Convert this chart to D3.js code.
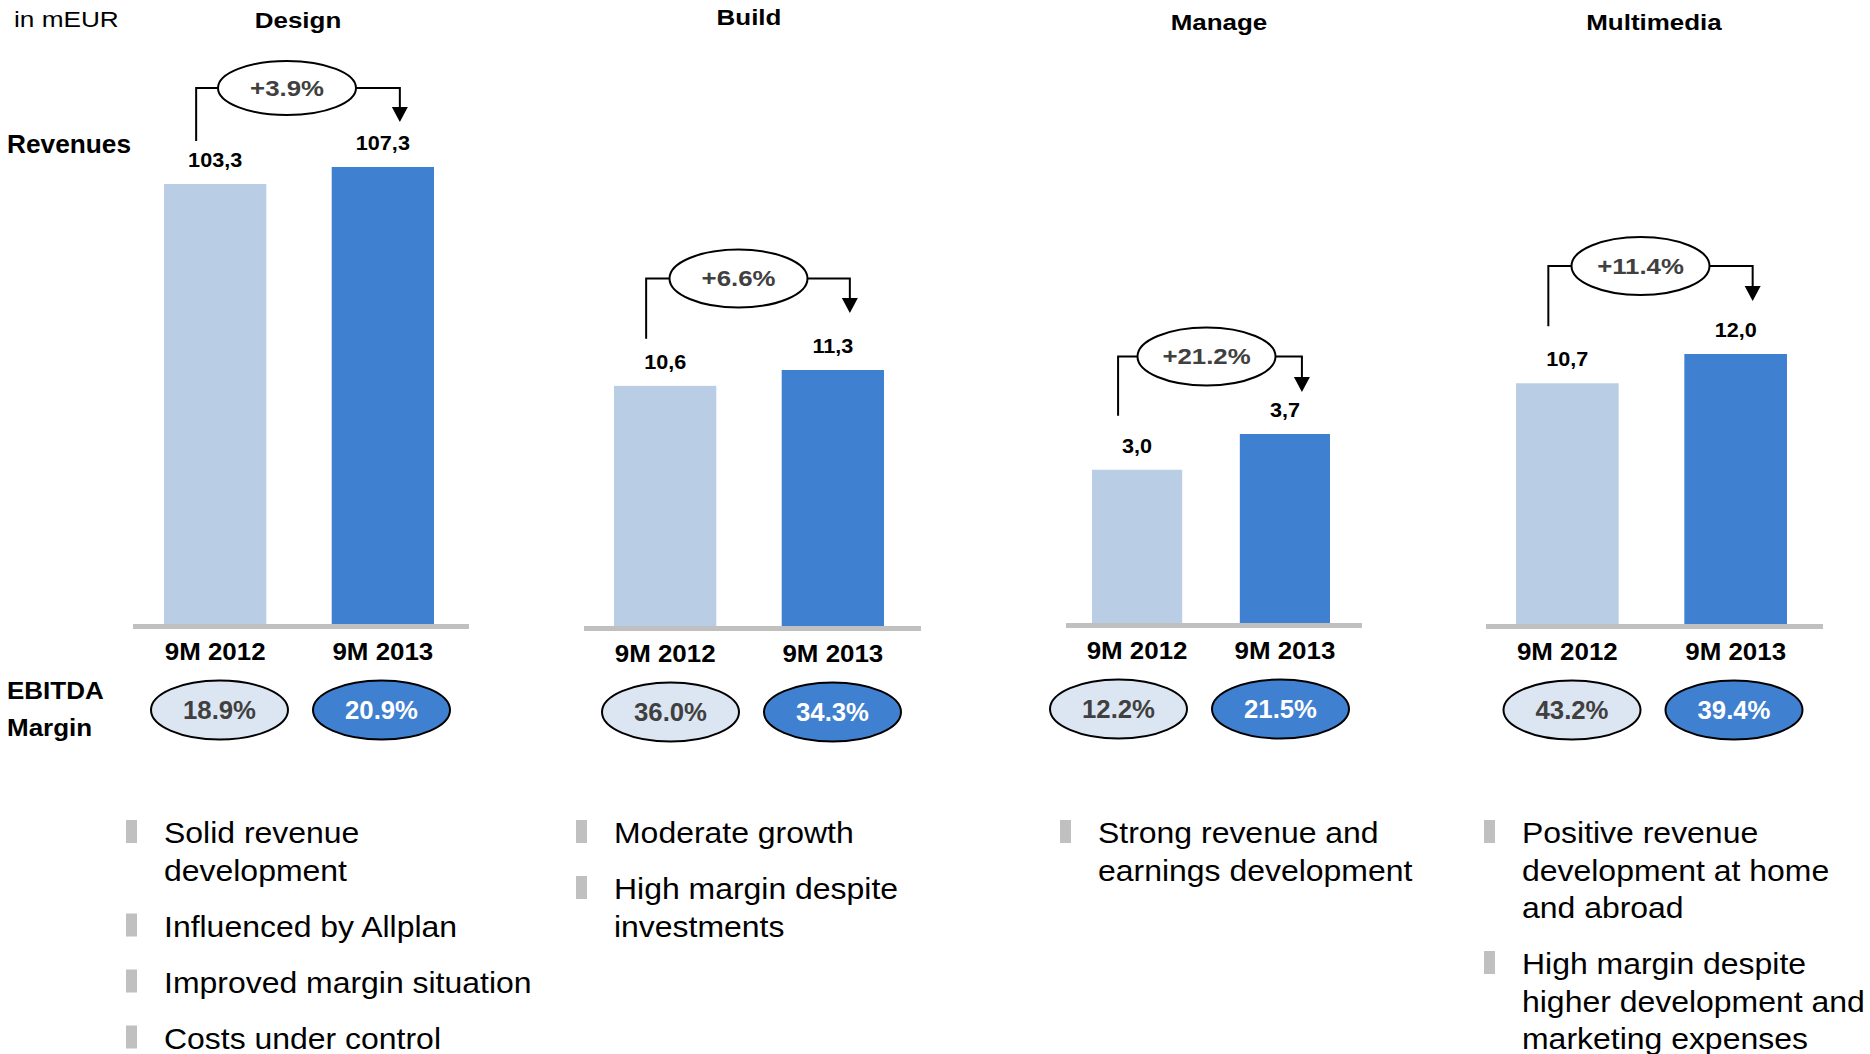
<!DOCTYPE html>
<html>
<head>
<meta charset="utf-8">
<script src="https://cdn.jsdelivr.net/npm/d3@7"></script>
<style>
  html, body { margin: 0; padding: 0; background: #ffffff; }
  svg { display: block; font-family: "Liberation Sans", Arial, sans-serif; }
</style>
</head>
<body>
<svg id="chart" width="1870" height="1054"></svg>
<script>
// ---------------- DATA ----------------
const categories = ["Design", "Build", "Manage", "Multimedia"];
const periods = ["9M 2012", "9M 2013"];
const revenue2012 = [103.3, 10.6, 3.0, 10.7];
const revenue2013 = [107.3, 11.3, 3.7, 12.0];
const growthLabels = ["+3.9%", "+6.6%", "+21.2%", "+11.4%"];
const margin2012 = ["18.9%", "36.0%", "12.2%", "43.2%"];
const margin2013 = ["20.9%", "34.3%", "21.5%", "39.4%"];
const bullets = [
  [["Solid revenue", "development"], ["Influenced by Allplan"], ["Improved margin situation"], ["Costs under control"]],
  [["Moderate growth"], ["High margin despite", "investments"]],
  [["Strong revenue and", "earnings development"]],
  [["Positive revenue", "development at home", "and abroad"], ["High margin despite", "higher development and", "marketing expenses"]]
];
const unitLabel = "in mEUR";
const rowLabelRevenue = "Revenues";
const rowLabelMargin = ["EBITDA", "Margin"];

// ---------------- LAYOUT (positions / sizes only) ----------------
const layout = [
  { base: [133, 469], baseY: 624, bars: [164, 434], plotH: 457, titleX: 298, titleY: 28,
    gCx: 287, gUp: 79, gRy: 27, leftOff: 43, tipOff: 45, mMid: 300.5, textX: 164 },
  { base: [584, 921], baseY: 626, bars: [614, 884], plotH: 256, titleX: 749, titleY: 25,
    gCx: 738.5, gUp: 91.5, gRy: 29, leftOff: 47, tipOff: 57, mMid: 751.5, textX: 614 },
  { base: [1066, 1362], baseY: 623, bars: [1092, 1330], plotH: 189, titleX: 1219, titleY: 30,
    gCx: 1206.5, gUp: 77.5, gRy: 29, leftOff: 54, tipOff: 42, mMid: 1199.5, textX: 1098 },
  { base: [1486, 1823], baseY: 624, bars: [1516, 1787], plotH: 270, titleX: 1654, titleY: 30,
    gCx: 1640.5, gUp: 88, gRy: 29, leftOff: 57, tipOff: 53, mMid: 1653, textX: 1522 }
];

const colLight = "#b9cde5";
const colDark = "#4080d0";
const colEllLight = "#dce6f2";
const colGray = "#c0c0c0";
const colText = "#404040";

const deFormat = d3.formatLocale({ decimal: ",", thousands: ".", grouping: [3], currency: ["", " €"] }).format(".1f");

const svg = d3.select("#chart");

function label(g, x, y, txt, o) {
  return g.append("text")
    .attr("transform", `translate(${x},${y}) scale(${o.sx || 1},1)`)
    .attr("text-anchor", o.anchor || "start")
    .attr("font-size", o.size)
    .attr("font-weight", o.weight || "normal")
    .attr("fill", o.fill || "#000")
    .text(txt);
}

// Row labels
label(svg, 14, 27, unitLabel, { size: 22, sx: 1.19 });
label(svg, 7, 153, rowLabelRevenue, { size: 25, weight: "bold", sx: 1.05 });
label(svg, 7, 699, rowLabelMargin[0], { size: 23, weight: "bold", sx: 1.13 });
label(svg, 7, 736, rowLabelMargin[1], { size: 23, weight: "bold", sx: 1.13 });

categories.forEach((cat, i) => {
  const L = layout[i];
  const vals = [revenue2012[i], revenue2013[i]];
  const g = svg.append("g");

  const x = d3.scaleBand().domain(periods).range(L.bars).paddingInner(0.39).paddingOuter(0);
  const y = d3.scaleLinear().domain([0, d3.max(vals)]).range([L.baseY, L.baseY - L.plotH]);

  // title
  label(g, L.titleX, L.titleY, cat, { size: 22, weight: "bold", sx: 1.18, anchor: "middle" });

  // bars
  g.selectAll("rect.bar").data(periods).join("rect")
    .attr("class", "bar")
    .attr("x", d => x(d))
    .attr("width", x.bandwidth())
    .attr("y", (d, j) => y(vals[j]))
    .attr("height", (d, j) => y(0) - y(vals[j]))
    .attr("fill", (d, j) => j === 0 ? colLight : colDark);

  // baseline
  g.append("rect")
    .attr("x", L.base[0]).attr("width", L.base[1] - L.base[0])
    .attr("y", y(0)).attr("height", 5)
    .attr("fill", colGray);

  // value labels
  periods.forEach((p, j) => {
    label(g, x(p) + x.bandwidth() / 2, y(vals[j]) - 17, deFormat(vals[j]),
      { size: 21, weight: "bold", sx: 1.03, anchor: "middle" });
  });

  // axis tick labels
  const ax = g.append("g").attr("transform", `translate(0,${y(0)})`)
    .call(d3.axisBottom(x).tickSize(0).tickPadding(0));
  ax.select(".domain").remove();
  ax.selectAll("text")
    .attr("y", 36).attr("dy", null)
    .attr("transform", "scale(1.08,1)")
    .attr("font-size", 24).attr("font-weight", "bold")
    .attr("font-family", "Liberation Sans, Arial, sans-serif")
    .attr("fill", "#000");

  // growth connector
  const c1 = x(periods[0]) + x.bandwidth() / 2;
  const c2 = x(periods[1]) + x.bandwidth() / 2;
  const gy = y(vals[1]) - L.gUp;
  const rx = 69;
  const lx = c1 - 19, rxp = c2 + 17;
  const lBottom = y(vals[0]) - L.leftOff;
  const tip = y(vals[1]) - L.tipOff;
  g.append("path")
    .attr("d", `M${lx},${lBottom} V${gy} H${L.gCx - rx}`)
    .attr("fill", "none").attr("stroke", "#000").attr("stroke-width", 2);
  g.append("path")
    .attr("d", `M${L.gCx + rx},${gy} H${rxp} V${tip - 14}`)
    .attr("fill", "none").attr("stroke", "#000").attr("stroke-width", 2);
  g.append("path")
    .attr("d", `M${rxp - 8},${tip - 15} L${rxp + 8},${tip - 15} L${rxp},${tip} Z`)
    .attr("fill", "#000");
  g.append("ellipse")
    .attr("cx", L.gCx).attr("cy", gy).attr("rx", rx).attr("ry", L.gRy)
    .attr("fill", "#fff").attr("stroke", "#000").attr("stroke-width", 2);
  label(g, L.gCx, gy + 7.5, growthLabels[i], { size: 21.5, weight: "bold", sx: 1.2, anchor: "middle", fill: colText });

  // margin ellipses
  const mY = y(0) + 86;
  const margins = [margin2012[i], margin2013[i]];
  margins.forEach((m, j) => {
    const cx = L.mMid + (j === 0 ? -81 : 81);
    g.append("ellipse")
      .attr("cx", cx).attr("cy", mY).attr("rx", 68.5).attr("ry", 29.5)
      .attr("fill", j === 0 ? colEllLight : colDark)
      .attr("stroke", "#000").attr("stroke-width", 2);
    label(g, cx, mY + 9, m, { size: 25, weight: "bold", sx: 1.03, anchor: "middle", fill: j === 0 ? colText : "#fff" });
  });

  // bullets
  let by = 843;
  bullets[i].forEach(item => {
    g.append("rect")
      .attr("x", L.textX - 38).attr("y", by - 23)
      .attr("width", 11).attr("height", 23)
      .attr("fill", colGray);
    item.forEach((line, k) => {
      label(g, L.textX, by + k * 37.5, line, { size: 30, sx: 1.065 });
    });
    by += (item.length - 1) * 37.5 + 56;
  });
});
</script>
</body>
</html>
